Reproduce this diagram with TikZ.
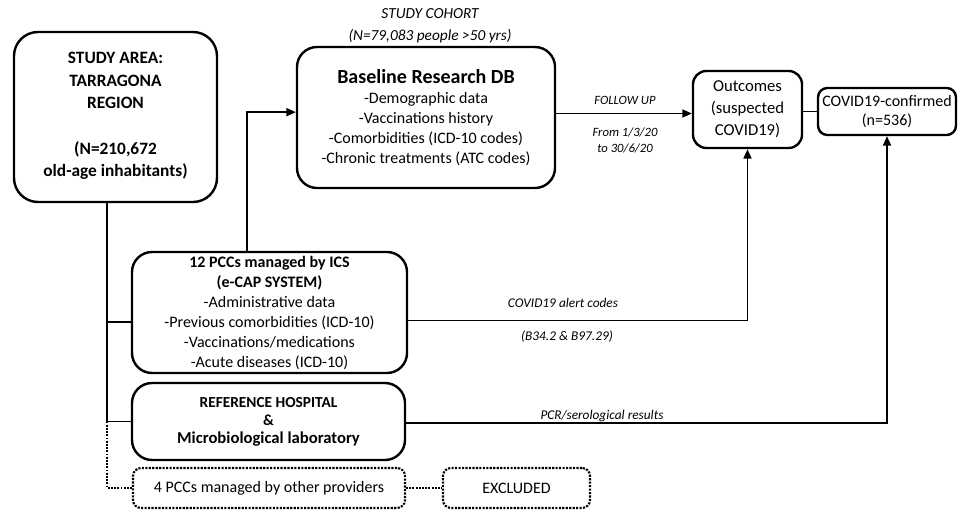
\documentclass[tikz,border=0pt]{standalone}
\usepackage{fontspec}
\setmainfont{Carlito}
\usepackage{tikz}
\usetikzlibrary{positioning}
\usetikzlibrary{arrows.meta}

\begin{document}
\begin{tikzpicture}[
                          x=0.75pt, y=-0.75pt,
                          roundbox/.style={rectangle, draw, line width=1.8pt, rounded corners=15pt, align=center, inner sep=0pt},
                          dotbox/.style={rectangle, draw, line width=1.6pt, densely dotted, rounded corners=6pt, align=center, inner sep=0pt, font=\fontsize{12}{15}\selectfont},
                          link/.style={draw, line width=1.1pt},
                          linkarrow/.style={draw, line width=1.1pt, -{Triangle[length=7pt,width=6pt]}},
                          dotlink/.style={draw, line width=1.4pt, densely dotted},
                          tag/.style={font=\itshape\fontsize{10}{12}\selectfont, align=center, inner sep=0pt},
                      ]
                      \useasboundingbox (0,0) rectangle (962,513);
                      % Nodes
                      \node[roundbox, rounded corners=18pt, minimum width=152.25pt, minimum height=127.5pt, text depth=4pt,
                            font=\bfseries\fontsize{13}{17}\selectfont]  (area)   at (115.5,117)
                            {STUDY AREA:\\TARRAGONA\\REGION\\[17pt](N=210,672\\old-age inhabitants)};

                      \node[roundbox, minimum width=193.5pt, minimum height=105.75pt,
                            font=\fontsize{12}{15}\selectfont]  (base)   at (426,117.5)
                            {{\bfseries\fontsize{15}{18}\selectfont Baseline Research DB}\\-Demographic data\\-Vaccinations history\\-Comorbidities (ICD-10 codes)\\-Chronic treatments (ATC codes)};

                      \node[roundbox, rounded corners=10pt, minimum width=81.75pt, minimum height=57.75pt,
                            font=\fontsize{12.5}{16.5}\selectfont]  (outc)   at (747.5,109.5)
                            {Outcomes\\(suspected\\COVID19)};

                      \node[roundbox, rounded corners=7pt, minimum width=103.5pt, minimum height=35.25pt,
                            font=\fontsize{12}{14.5}\selectfont]  (conf)   at (887,111.5)
                            {COVID19-confirmed\\(n=536)};

                      \node[roundbox, minimum width=206.25pt, minimum height=90.75pt,
                            font=\fontsize{12}{15}\selectfont]  (pcc)    at (269.5,312.5)
                            {\bfseries 12 PCCs managed by ICS\\\bfseries (e-CAP SYSTEM)\\-Administrative data\\-Previous comorbidities (ICD-10)\\-Vaccinations/medications\\-Acute diseases (ICD-10)};

                      \node[roundbox, minimum width=204.75pt, minimum height=57.75pt,
                            font=\bfseries\fontsize{11.5}{13.5}\selectfont]  (hosp)   at (268.5,421.5)
                            {REFERENCE HOSPITAL\\\&\\{\fontsize{12.5}{13.5}\selectfont Microbiological laboratory}};

                      \node[dotbox, minimum width=204pt, minimum height=30pt]     (other)  at (269,488)  {4 PCCs managed by other providers};
                      \node[dotbox, minimum width=110.25pt, minimum height=30pt]  (excl)   at (516.5,488) {EXCLUDED};

                      % Labels
                      \node[tag, font=\itshape\fontsize{11.5}{16.5}\selectfont]  (cohort) at (430,26) {STUDY COHORT\\(N=79,083 people >50 yrs)};
                      \node[tag, font=\itshape\fontsize{9.5}{11}\selectfont]   (follow) at (625,100) {FOLLOW UP};
                      \node[tag, font=\itshape\fontsize{9.5}{12}\selectfont]   (period) at (625,140) {From 1/3/20\\to 30/6/20};
                      \node[tag]  (alert)  at (563,303) {COVID19 alert codes};
                      \node[tag]  (codes)  at (567,337) {(B34.2 \& B97.29)};
                      \node[tag]  (pcr)    at (602,416) {PCR/serological results};

                      \coordinate (trunk) at (107,0);
                      \coordinate (riser) at (247,0);

                      %Lines
                      \draw[link] (area.south -| trunk) -- (trunk |- hosp.west) -- (hosp.west);
                      \draw[link] ([yshift=-7pt]pcc.west -| trunk) -- ([yshift=-7pt]pcc.west);
                      \draw[dotlink] (trunk |- hosp.west) |- (other.west);
                      \draw[dotlink] (other.east) -- (excl.west);
                      \draw[linkarrow] (pcc.north -| riser) |- ([yshift=4pt]base.west);
                      \draw[linkarrow] ([yshift=3pt]base.east) -- ([yshift=3pt]base.east -| outc.west);
                      \draw[link] (conf.west -| outc.east) -- (conf.west);
                      \draw[linkarrow] ([yshift=-6pt]pcc.east) -| (outc.south);
                      \draw[linkarrow] ([yshift=-1pt]hosp.east) -| (conf.south);
                  \end{tikzpicture}
\end{document}
